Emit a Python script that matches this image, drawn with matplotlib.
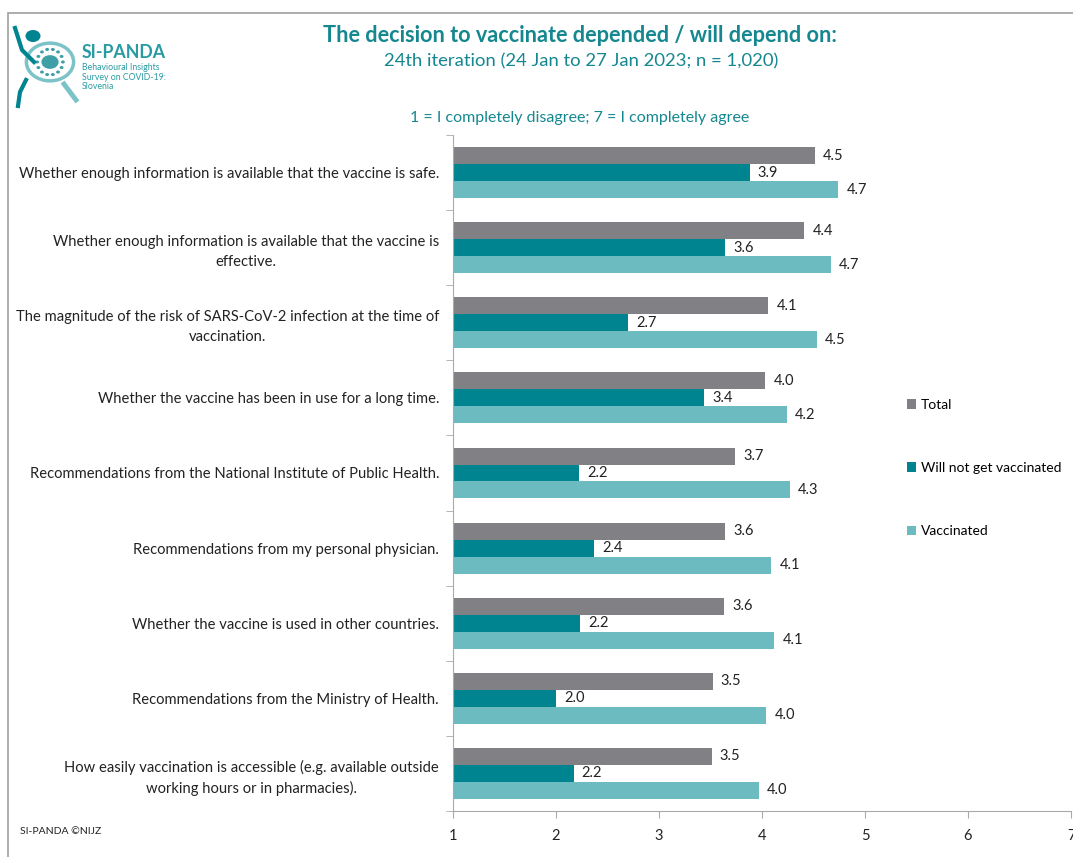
import numpy as np
import matplotlib.pyplot as plt
from matplotlib.patches import Rectangle, Circle

categories = [
    "Whether enough information is available that the vaccine is safe.",
    "Whether enough information is available that the vaccine is\neffective.",
    "The magnitude of the risk of SARS-CoV-2 infection at the time of\nvaccination.",
    "Whether the vaccine has been in use for a long time.",
    "Recommendations from the National Institute of Public Health.",
    "Recommendations from my personal physician.",
    "Whether the vaccine is used in other countries.",
    "Recommendations from the Ministry of Health.",
    "How easily vaccination is accessible (e.g. available outside\nworking hours or in pharmacies).",
]
total = [4.51, 4.41, 4.06, 4.03, 3.74, 3.64, 3.63, 3.52, 3.51]
will_not = [3.88, 3.64, 2.70, 3.44, 2.22, 2.37, 2.23, 2.00, 2.17]
vaccinated = [4.74, 4.67, 4.53, 4.24, 4.27, 4.09, 4.12, 4.04, 3.97]
series_names = ["Total", "Will not get vaccinated", "Vaccinated"]
colors = ["#808085", "#00848F", "#6CBBC1"]
xticks = [1, 2, 3, 4, 5, 6, 7]

plt.rcParams['font.family'] = ['Lato', 'DejaVu Sans']
teal = "#14878F"

fig = plt.figure(figsize=(10.73, 8.57), dpi=100)
ax = fig.add_axes([453/1073, 46/857, 618/1073, 676/857])

n = len(categories)
y = np.arange(n)
h = 0.226
series = [total, will_not, vaccinated]
for i, (vals, c, name) in enumerate(zip(series, colors, series_names)):
    pos = y + (i - 1) * h
    ax.barh(pos, np.array(vals) - 1, left=1, height=h, color=c, label=name)
    for p, v in zip(pos, vals):
        ax.text(v + 0.08, p, f"{v:.1f}", va='center', ha='left', fontsize=10.5,
                color='#222222')

ax.set_xlim(1, 7)
ax.set_ylim(n - 0.5, -0.5)
ax.set_xticks(xticks)
ax.set_xticklabels([str(t) for t in xticks], fontsize=10.5, color='#222222')
ax.set_yticks(y)
ax.set_yticklabels(categories, fontsize=10.6, color='#222222', linespacing=1.5,
                   multialignment='center')
ax.set_yticks(np.arange(n + 1) - 0.5, minor=True)
ax.tick_params(axis='y', which='major', length=0, pad=10)
ax.tick_params(axis='y', which='minor', length=5, color='#aaaaaa')
ax.tick_params(axis='x', length=5, color='#aaaaaa', pad=8)
for s in ['top', 'right']:
    ax.spines[s].set_visible(False)
for s in ['left', 'bottom']:
    ax.spines[s].set_color('#aaaaaa')

handles, labels = ax.get_legend_handles_labels()
fig.legend(handles, labels, loc='center left', bbox_to_anchor=(894/1073, 1 - 468/857),
           frameon=False, fontsize=10, handlelength=0.7, handleheight=0.7,
           handletextpad=0.35, labelspacing=3.7)

# titles
fig.text(580/1073, 1 - 35/857, "The decision to vaccinate depended / will depend on:",
         ha='center', va='center', fontsize=15.6, fontweight='bold', color=teal)
fig.text(581/1073, 1 - 61/857, "24th iteration (24 Jan to 27 Jan 2023; n = 1,020)",
         ha='center', va='center', fontsize=13.3, color=teal)
fig.text(580/1073, 1 - 118/857, "1 = I completely disagree; 7 = I completely agree",
         ha='center', va='center', fontsize=11.5, color=teal)
fig.text(20/1073, 1 - 832/857, "SI-PANDA ©NIJZ", ha='left', va='center',
         fontsize=7.5, color='#222222')

# frame
fig.patches.append(Rectangle((8/1073, -0.1), 1.2, 1 - 13/857 + 0.1,
                             transform=fig.transFigure, fill=False,
                             edgecolor='#a0a0a0', linewidth=1.2))

# logo
lx, ly = 50/1073, 1 - 62/857
fig.patches.append(Circle((lx, ly), 0.022, transform=fig.transFigure,
                          fill=False, edgecolor='#7CC3C8', linewidth=2.5))
ang = np.linspace(0, 2 * np.pi, 14, endpoint=False)
fig.patches.append(Circle((lx, ly), 0.008, transform=fig.transFigure,
                          facecolor='#3F9FA7', edgecolor='none'))
for a in ang:
    fig.patches.append(Circle((lx + 0.012 * np.cos(a), ly + 0.015 * np.sin(a)), 0.0018,
                              transform=fig.transFigure, facecolor='#3F9FA7',
                              edgecolor='none'))
fig.patches.append(Circle((33/1073, 1 - 36/857), 0.007, transform=fig.transFigure,
                          facecolor='#00848F', edgecolor='none'))
fig.lines.append(plt.Line2D([64/1073, 76/1073], [1 - 84/857, 1 - 100/857],
                            transform=fig.transFigure, color='#7CC3C8', linewidth=3.5))
fig.lines.append(plt.Line2D([15/1073, 22/1073, 34/1073], [1 - 28/857, 1 - 50/857, 1 - 62/857],
                            transform=fig.transFigure, color='#00848F', linewidth=3))
fig.lines.append(plt.Line2D([26/1073, 20/1073, 18/1073], [1 - 80/857, 1 - 92/857, 1 - 106/857],
                            transform=fig.transFigure, color='#00848F', linewidth=3))
fig.text(82/1073, 1 - 52/857, "SI-PANDA", ha='left', va='center', fontsize=12.8,
         fontweight='bold', color='#2A9BA3')
fig.text(82/1073, 1 - 77/857, "Behavioural Insights\nSurvey on COVID-19:\nSlovenia",
         ha='left', va='center', fontsize=6.3, color='#2A9BA3', linespacing=1.1)

fig.savefig('out.png', dpi=100)
